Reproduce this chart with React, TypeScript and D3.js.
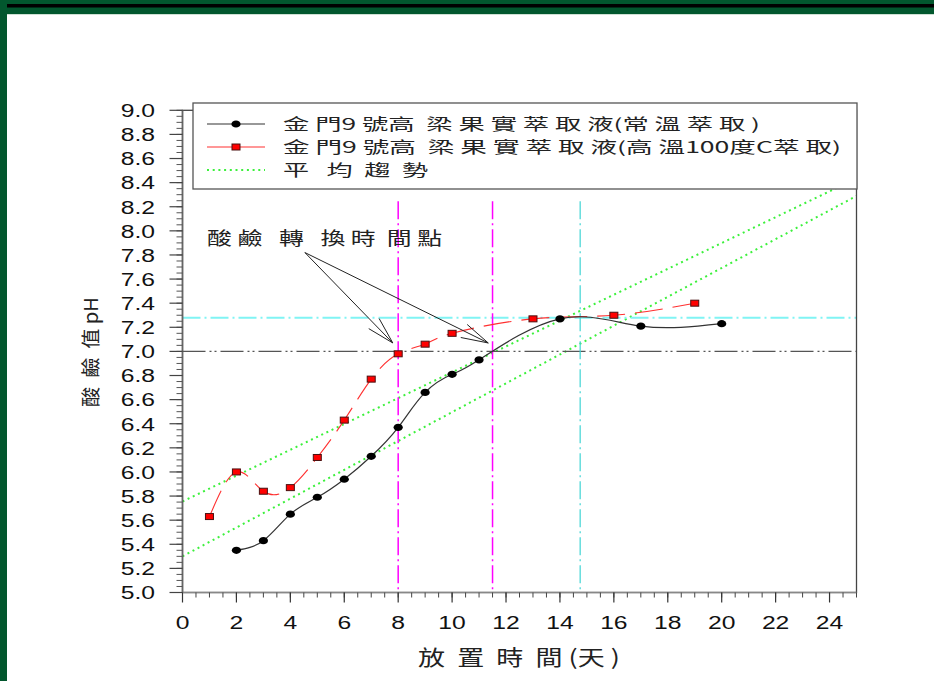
import React from "react";
import * as d3 from "d3";

// 常溫萃取
const days1 = [2, 3, 4, 5, 6, 7, 8, 9, 10, 11, 14, 17, 20];
const ph1 = [5.35, 5.43, 5.65, 5.79, 5.94, 6.13, 6.37, 6.66, 6.81, 6.93, 7.27, 7.21, 7.23];
// 高溫100度C萃取
const days2 = [1, 2, 3, 4, 5, 6, 7, 8, 9, 10, 13, 16, 19];
const ph2 = [5.63, 6.0, 5.84, 5.87, 6.12, 6.43, 6.77, 6.98, 7.06, 7.15, 7.27, 7.3, 7.4];
// 平均趨勢 (two dotted trend lines, values at day 0 and day 25)
const trendUpper = [5.755, 8.435];
const trendLower = [5.3, 8.29];

const hRefs = [7.0, 7.28];
const vRefs = [8, 11.5, 14.75];

const xTicks = d3.range(0, 25, 2);
const yTicks = d3.range(5, 9.01, 0.2);

const legendLabels = [
  "金 門9 號高  梁 果 實 萃 取 液(常 溫 萃 取 )",
  "金 門9 號高  梁 果 實 萃 取 液(高 溫100度C萃 取)",
  "平   均  趨  勢",
];
const annotation = "酸 鹼   轉   換 時  間 點";
const xTitle = "放  置  時  間 (天 )";
const yTitle = "酸  鹼  值 pH";

const W = 934;
const H = 681;
const CJK = "'Noto Sans CJK TC', 'Noto Sans CJK SC', sans-serif";
const LAT = "'Liberation Sans', Arial, sans-serif";
const pre = { whiteSpace: "pre" as const };

export default function App() {
  const x = d3.scaleLinear().domain([0, 25]).range([182.5, 856.5]);
  const y = d3.scaleLinear().domain([5, 9]).range([592.5, 110.3]);

  const line = d3
    .line<[number, number]>()
    .x((d) => x(d[0]))
    .y((d) => y(d[1]))
    .curve(d3.curveNatural);

  const s1 = days1.map((d, i) => [d, ph1[i]] as [number, number]);
  const s2 = days2.map((d, i) => [d, ph2[i]] as [number, number]);

  const minorY = d3.range(5, 9.001, 0.05);
  const minorX = d3.range(0, 25.001, 0.5);

  // annotation arrows in data units
  const arrowFrom: [number, number] = [4.54, 7.82];
  const arrowTips: [number, number][] = [
    [7.8, 7.07],
    [11.34, 7.07],
  ];
  const head = (tip: [number, number]) => {
    const x0 = x(arrowFrom[0]), y0 = y(arrowFrom[1]);
    const x1 = x(tip[0]), y1 = y(tip[1]);
    const a = Math.atan2(y0 - y1, x0 - x1);
    const L = 28, sp = (15 * Math.PI) / 180;
    return [a - sp, a + sp].map((b) => [x1 + L * Math.cos(b), y1 + L * Math.sin(b)]);
  };

  return (
    <svg
      width={W}
      height={H}
      style={{ position: "absolute", left: 0, top: 0, background: "#fff" }}
    >
      {/* slide frame */}
      <rect x={0} y={0} width={W} height={14} fill="#02572e" />
      <rect x={0} y={4} width={W} height={3.5} fill="#000" />
      <rect x={0} y={0} width={7} height={H} fill="#02572e" />
      <line x1={7} x2={W} y1={14.5} y2={14.5} stroke="#cfe0d4" strokeWidth={1} />

      {/* trend lines */}
      {[trendUpper, trendLower].map((t, i) => (
        <line
          key={"t" + i}
          x1={x(0)}
          y1={y(t[0])}
          x2={x(25)}
          y2={y(t[1])}
          stroke="#3cf03c"
          strokeWidth={2}
          strokeDasharray="2,3.7"
        />
      ))}

      {/* reference lines */}
      <line x1={x(0)} x2={x(25)} y1={y(hRefs[0])} y2={y(hRefs[0])} stroke="#555" strokeWidth={1.3} strokeDasharray="23,4,2,3,2,4" />
      <line x1={x(0)} x2={x(25)} y1={y(hRefs[1])} y2={y(hRefs[1])} stroke="#80f4f4" strokeWidth={2} strokeDasharray="18,4,2,4" />
      {vRefs.map((v, i) => (
        <line
          key={"v" + i}
          x1={x(v)}
          x2={x(v)}
          y1={y(8.245)}
          y2={y(5)}
          stroke={i < 2 ? "#ff00ff" : "#40d4d4"}
          strokeWidth={i < 2 ? 1.5 : 1.2}
          strokeDasharray="18,4,2,4"
        />
      ))}

      {/* series */}
      <path d={line(s2) || ""} fill="none" stroke="#ff3030" strokeWidth={1.1} strokeDasharray="28,10" />
      <path d={line(s1) || ""} fill="none" stroke="#333" strokeWidth={1.2} />
      {s1.map((d, i) => (
        <ellipse key={"c" + i} cx={x(d[0])} cy={y(d[1])} rx={4.6} ry={3.6} fill="#000" />
      ))}
      {s2.map((d, i) => (
        <rect
          key={"r" + i}
          x={x(d[0]) - 4}
          y={y(d[1]) - 3}
          width={8}
          height={6}
          fill="#ff0000"
          stroke="#4a1010"
          strokeWidth={1}
        />
      ))}

      {/* plot frame */}
      <rect x={x(0)} y={y(9)} width={x(25) - x(0)} height={y(5) - y(9)} fill="none" stroke="#444" strokeWidth={1.3} />

      {/* y axis */}
      <line x1={x(0)} x2={x(0)} y1={y(5)} y2={y(9)} stroke="#666" strokeWidth={1.6} />
      {minorY.map((v, i) => (
        <line key={"my" + i} x1={x(0) - 6} x2={x(0)} y1={y(v)} y2={y(v)} stroke="#555" strokeWidth={1} />
      ))}
      {yTicks.map((v, i) => (
        <g key={"yt" + i}>
          <line x1={x(0) - 13} x2={x(0)} y1={y(v)} y2={y(v)} stroke="#444" strokeWidth={1.2} />
          <text
            transform={`translate(155,${y(v) + 6.8}) scale(1.3,1)`}
            textAnchor="end"
            fontFamily={LAT}
            fontSize={19}
            fill="#111"
          >
            {v.toFixed(1)}
          </text>
        </g>
      ))}

      {/* x axis */}
      <line x1={x(0)} x2={x(25)} y1={y(5)} y2={y(5)} stroke="#888" strokeWidth={1.6} />
      {minorX.map((v, i) => (
        <line key={"mx" + i} x1={x(v)} x2={x(v)} y1={y(5)} y2={y(5) + 5} stroke="#444" strokeWidth={1} />
      ))}
      {xTicks.map((v, i) => (
        <g key={"xt" + i}>
          <line x1={x(v)} x2={x(v)} y1={y(5)} y2={y(5) + 10} stroke="#333" strokeWidth={1.2} />
          <text
            transform={`translate(${x(v)},629) scale(1.3,1)`}
            textAnchor="middle"
            fontFamily={LAT}
            fontSize={19}
            fill="#111"
          >
            {v}
          </text>
        </g>
      ))}

      {/* axis titles */}
      <text x={418} y={665} style={pre} textLength={202} lengthAdjust="spacingAndGlyphs" fontFamily={CJK} fontSize={21} fill="#222">
        {xTitle}
      </text>
      <text
        transform="translate(98,407) rotate(-90)"
        style={pre}
        textLength={110}
        lengthAdjust="spacingAndGlyphs"
        fontFamily={CJK}
        fontSize={19}
        fill="#222"
      >
        {yTitle}
      </text>

      {/* annotation */}
      <text x={207} y={245} style={pre} textLength={235} lengthAdjust="spacingAndGlyphs" fontFamily={CJK} fontSize={18} fill="#222">
        {annotation}
      </text>
      {arrowTips.map((t, i) => {
        const hd = head(t);
        return (
          <g key={"a" + i} stroke="#222" strokeWidth={1} fill="none">
            <line x1={x(arrowFrom[0])} y1={y(arrowFrom[1])} x2={x(t[0])} y2={y(t[1])} />
            {hd.map((p, j) => (
              <line key={j} x1={p[0]} y1={p[1]} x2={x(t[0])} y2={y(t[1])} />
            ))}
          </g>
        );
      })}

      {/* legend */}
      <rect x={193} y={103} width={664} height={86} fill="#fff" stroke="#555" strokeWidth={1.3} />
      {legendLabels.map((lab, i) => {
        const ly = 124 + i * 23;
        const tl = [477, 558, 145][i];
        return (
          <g key={"l" + i}>
            {i === 0 && (
              <>
                <line x1={207} x2={265} y1={ly} y2={ly} stroke="#333" strokeWidth={1.2} />
                <ellipse cx={236} cy={ly} rx={4.6} ry={3.6} fill="#000" />
              </>
            )}
            {i === 1 && (
              <>
                <line x1={207} x2={265} y1={ly} y2={ly} stroke="#ff3030" strokeWidth={1.1} />
                <rect x={232} y={ly - 3} width={8} height={6} fill="#ff0000" stroke="#4a1010" strokeWidth={1} />
              </>
            )}
            {i === 2 && (
              <line x1={207} x2={265} y1={ly} y2={ly} stroke="#3cf03c" strokeWidth={2} strokeDasharray="2,3.7" />
            )}
            <text
              x={283}
              y={ly + 6}
              style={pre}
              textLength={tl}
              lengthAdjust="spacingAndGlyphs"
              fontFamily={CJK}
              fontSize={15.6}
              fill="#222"
            >
              {lab}
            </text>
          </g>
        );
      })}
    </svg>
  );
}
